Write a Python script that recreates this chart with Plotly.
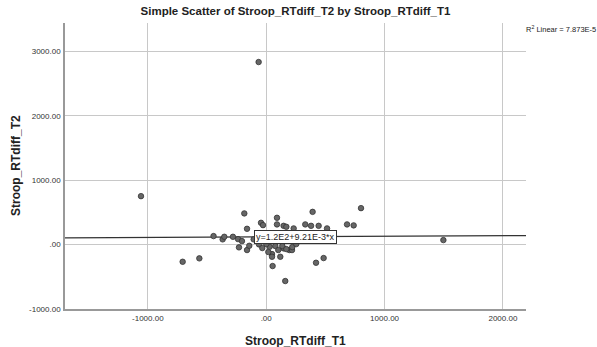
import plotly.graph_objects as go

# Data
rt_diff_t1 = [-1058, -706, -565, -445, -368, -354, -281, -238, -205, -185, -162, -230,
              -162, -143, -106, -61, -44, -27, 29, 49, 49, 54, 91, 91, 119, 161, 147,
              170, 147, 195, 232, 330, 392, 379, 443, 514, 421, 485, 683, 739, 801,
              1497, -64, 218, 1, 77, 102, 136, 170, 220, 254, -33, 18]
rt_diff_t2 = [752, -267, -214, 132, 81, 121, 121, 85, 54, 484, 245, -43,
              -85, -19, 81, 3, 338, 302, -34, -147, -189, -333, 416, 313, -189, -566, 291,
              276, -59, -85, 251, 313, 508, 291, 291, 251, -282, -209, 313, 298, 566,
              70, 2834, -85, 8, -23, -85, -23, -70, -39, 8, -54, -116]

fit_intercept = 1.2e2
fit_slope = 9.21e-3
r2_text = "R<sup>2</sup> Linear = 7.873E-5"
eq_text = "y=1.2E2+9.21E-3*x"

x_ticks = [-1000, 0, 1000, 2000]
x_ticktext = ["-1000.00", ".00", "1000.00", "2000.00"]
y_ticks = [-1000, 0, 1000, 2000, 3000]
y_ticktext = ["-1000.00", ".00", "1000.00", "2000.00", "3000.00"]

x_range = [-1700, 2195]
y_range = [-1000, 3440]

FONT = "Liberation Sans, Arial, sans-serif"

fig = go.Figure()

fit_x = x_range
fit_y = [fit_intercept + fit_slope * v for v in fit_x]
fig.add_trace(go.Scatter(x=fit_x, y=fit_y, mode="lines",
                         line=dict(color="#333333", width=1.3),
                         hoverinfo="skip", showlegend=False))

fig.add_trace(go.Scatter(x=rt_diff_t1, y=rt_diff_t2, mode="markers",
                         marker=dict(size=5.5, color="#666666",
                                     line=dict(color="#333333", width=0.8)),
                         showlegend=False))

fig.add_annotation(x=246, y=116, xref="x", yref="y", text=eq_text,
                   showarrow=False, bgcolor="white", bordercolor="#333333",
                   borderwidth=1, borderpad=1,
                   font=dict(family=FONT, size=9, color="#222222"))

fig.add_annotation(x=1, y=1, xref="paper", yref="paper", text=r2_text,
                   xanchor="left", yanchor="middle", xshift=-2, yshift=-6,
                   showarrow=False,
                   font=dict(family=FONT, size=7.5, color="#222222"))

fig.add_annotation(x=0.5, y=0, xref="paper", yref="paper", text="<b>Stroop_RTdiff_T1</b>",
                   xanchor="center", yanchor="middle", yshift=-32, showarrow=False,
                   font=dict(family=FONT, size=12, color="#222222"))

fig.add_annotation(x=0, y=0.5, xref="paper", yref="paper", text="<b>Stroop_RTdiff_T2</b>",
                   xanchor="center", yanchor="middle", xshift=-49, textangle=-90,
                   showarrow=False,
                   font=dict(family=FONT, size=12, color="#222222"))

fig.update_layout(
    width=597, height=347,
    margin=dict(l=65, r=71, t=23, b=38),
    paper_bgcolor="white", plot_bgcolor="white",
    title=dict(text="<b>Simple Scatter of Stroop_RTdiff_T2 by Stroop_RTdiff_T1</b>",
               x=0.5, xref="paper", y=1 - 11 / 347, yref="container",
               xanchor="center", yanchor="middle",
               font=dict(family=FONT, size=11.5, color="#222222")),
    font=dict(family=FONT, color="#222222"),
)

fig.update_xaxes(range=x_range, tickvals=x_ticks, ticktext=x_ticktext,
                 showgrid=True, gridcolor="#c8c8c8", gridwidth=1,
                 zeroline=False, showline=True, linecolor="#999999", linewidth=1.5,
                 ticks="outside", ticklen=1, tickcolor="rgba(0,0,0,0)",
                 tickfont=dict(family=FONT, size=8, color="#333333"))
fig.update_yaxes(range=y_range, tickvals=y_ticks, ticktext=y_ticktext,
                 showgrid=True, gridcolor="#c8c8c8", gridwidth=1,
                 zeroline=False, showline=True, linecolor="#999999", linewidth=1.5,
                 ticks="outside", ticklen=1, tickcolor="rgba(0,0,0,0)",
                 tickfont=dict(family=FONT, size=8, color="#333333"))

fig.write_html("out.html")
